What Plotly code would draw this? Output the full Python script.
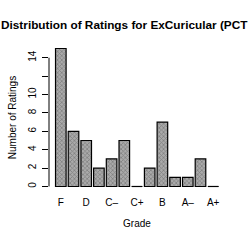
import plotly.graph_objects as go

grades = ["F", "D-", "D", "D+", "C-", "C", "C+", "B-", "B", "B+", "A-", "A", "A+"]
counts = [15, 6, 5, 2, 3, 5, 0, 2, 7, 1, 1, 3, 0]
tick_grades = ["F", "D", "C-", "C+", "B", "A-", "A+"]
tick_text = ["F", "D", "C–", "C+", "B", "A–", "A+"]
y_ticks = [0, 2, 4, 6, 8, 10, 12, 14]
y_ticktext = ["0", "2", "4", "6", "8", "10", "", "14"]

title = "Distribution of Ratings for ExCuricular (PCT"

bargap = 0.2 / 1.2
bw = 1 - bargap
font = "Liberation Sans, Arial, sans-serif"

fig = go.Figure()
fig.add_trace(go.Bar(
    x=grades, y=counts,
    marker=dict(
        color="#8a8a8a",
        line=dict(color="black", width=1.2),
        pattern=dict(shape="x", size=3, fgcolor="#555555", bgcolor="#aaaaaa", solidity=0.45),
    ),
    width=bw,
))

shapes = []
for i, c in enumerate(counts):
    if c == 0:
        shapes.append(dict(type="line", xref="x", yref="y",
                           x0=i - bw / 2, x1=i + bw / 2, y0=0, y1=0,
                           line=dict(color="black", width=1.2)))
shapes.append(dict(type="line", xref="paper", yref="y", x0=0, x1=0,
                   y0=y_ticks[0], y1=y_ticks[-1],
                   line=dict(color="black", width=1)))

fig.update_layout(
    width=250, height=250,
    margin=dict(l=49, r=25, t=43, b=58, pad=0),
    paper_bgcolor="white", plot_bgcolor="white",
    showlegend=False,
    font=dict(family=font, size=10, color="black"),
    title=dict(text="<b>" + title + "</b>", x=0.004, xanchor="left", xref="container",
               y=1 - 25 / 250, yanchor="middle", yref="container",
               font=dict(size=11.8, family=font, color="black")),
    shapes=shapes,
    bargap=bargap,
)
fig.update_xaxes(
    range=[-0.93, 12.93],
    tickmode="array", tickvals=tick_grades, ticktext=tick_text,
    showline=False, showgrid=False, zeroline=False, ticks="",
    ticklabelstandoff=3,
    title=dict(text="Grade", standoff=12, font=dict(size=10)),
)
fig.update_yaxes(
    range=[-0.6, 15.6],
    tickmode="array", tickvals=y_ticks, ticktext=y_ticktext,
    tickangle=-90, ticks="outside", ticklen=6, tickcolor="black", tickwidth=1,
    showline=False, showgrid=False, zeroline=False,
    ticklabelstandoff=2,
    title=dict(text="Number of Ratings", standoff=8, font=dict(size=10)),
)

fig.write_html("out.html")
